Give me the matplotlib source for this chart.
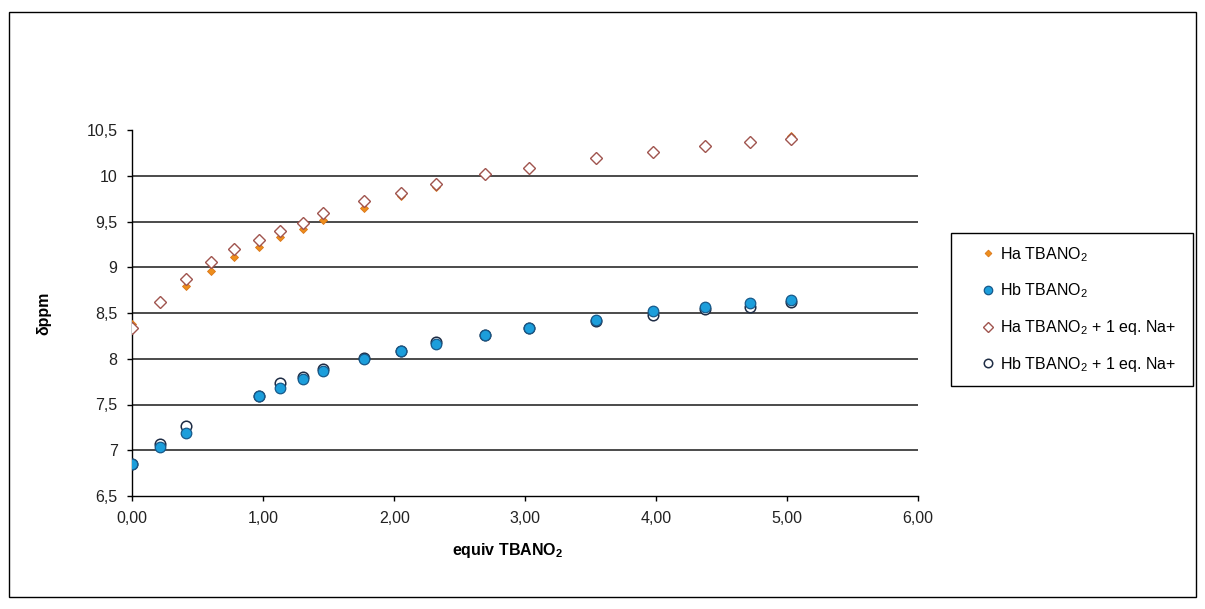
import matplotlib
matplotlib.use('Agg')
import matplotlib.pyplot as plt
from matplotlib.patches import Rectangle

plt.rcParams['font.family'] = ['Liberation Sans', 'DejaVu Sans']
plt.rcParams['mathtext.fontset'] = 'custom'
plt.rcParams['mathtext.rm'] = 'Liberation Sans'
plt.rcParams['mathtext.it'] = 'Liberation Sans:italic'
plt.rcParams['mathtext.bf'] = 'Liberation Sans:bold'
plt.rcParams['mathtext.default'] = 'regular'

# equiv TBANO2 for the Ha series (Hb series has no points at 0.60 and 0.78)
x_ha = [0.00, 0.21, 0.41, 0.60, 0.78, 0.97, 1.13, 1.30, 1.46, 1.77,
        2.05, 2.32, 2.69, 3.03, 3.54, 3.98, 4.37, 4.72, 5.03]
ha = [8.38, 8.62, 8.79, 8.96, 9.11, 9.22, 9.33, 9.42, 9.52, 9.65,
      9.78, 9.88, 10.01, 10.07, 10.18, 10.26, 10.32, 10.37, 10.43]
ha_na = [8.34, 8.62, 8.87, 9.06, 9.20, 9.30, 9.40, 9.48, 9.59, 9.72,
         9.81, 9.91, 10.02, 10.08, 10.19, 10.26, 10.32, 10.37, 10.40]

x_hb = [0.00, 0.21, 0.41, 0.97, 1.13, 1.30, 1.46, 1.77, 2.05, 2.32,
        2.69, 3.03, 3.54, 3.98, 4.37, 4.72, 5.03]
hb = [6.85, 7.04, 7.19, 7.59, 7.68, 7.78, 7.87, 8.00, 8.09, 8.16,
      8.26, 8.34, 8.42, 8.52, 8.57, 8.61, 8.64]
hb_na = [6.85, 7.07, 7.27, 7.59, 7.74, 7.80, 7.89, 8.01, 8.09, 8.18,
         8.26, 8.34, 8.41, 8.48, 8.54, 8.57, 8.62]

labels = ['Ha TBANO$_2$', 'Hb TBANO$_2$',
          'Ha TBANO$_2$ + 1 eq. Na+', 'Hb TBANO$_2$ + 1 eq. Na+']

x_ticks = [0, 1, 2, 3, 4, 5, 6]
x_ticklabels = ['0,00', '1,00', '2,00', '3,00', '4,00', '5,00', '6,00']
y_ticks = [6.5, 7, 7.5, 8, 8.5, 9, 9.5, 10, 10.5]
y_ticklabels = ['6,5', '7', '7,5', '8', '8,5', '9', '9,5', '10', '10,5']

W, H = 1205, 609
fig = plt.figure(figsize=(W / 100, H / 100), dpi=100)

# outer chart border
fig.patches.append(Rectangle((9 / W, 1 - 597 / H), (1196 - 9) / W, (597 - 12) / H,
                             transform=fig.transFigure, fill=False,
                             edgecolor='black', lw=1))

ax = fig.add_axes([132.3 / W, 1 - 496 / H, (918 - 132.3) / W, (496 - 130) / H])

# open markers go above the orange diamonds, the blue dots sit on top of the open circles
l1, = ax.plot(x_ha, ha, ls='none', marker='D', ms=4.3, mfc='#EE8E1C',
              mec='#D9761A', mew=0.6, zorder=3)
l3, = ax.plot(x_ha, ha_na, ls='none', marker='D', ms=5.8, mfc='white',
              mec='#A0544E', mew=1.0, zorder=4)
l4, = ax.plot(x_hb, hb_na, ls='none', marker='o', ms=7.6, mfc='white',
              mec='#1F2D45', mew=1.1, zorder=3)
l2, = ax.plot(x_hb, hb, ls='none', marker='o', ms=7.6, mfc='#1C9EDB',
              mec='#17598A', mew=0.9, zorder=4)

ax.set_xlim(0, 6)
ax.set_ylim(6.5, 10.5)
ax.set_xticks(x_ticks)
ax.set_xticklabels(x_ticklabels)
ax.set_yticks(y_ticks)
ax.set_yticklabels(y_ticklabels)
ax.tick_params(axis='both', direction='out', length=3.6, width=1,
               labelsize=11.5, colors='black', labelcolor='#222222')
ax.tick_params(axis='y', pad=7)
ax.tick_params(axis='x', pad=7)

ax.yaxis.grid(True, color='#1a1a1a', lw=1.1)
ax.set_axisbelow(True)
# no grid line on the top value or the axis line itself
gl = ax.get_ygridlines()
gl[0].set_visible(False)
gl[-1].set_visible(False)

for s in ['top', 'right']:
    ax.spines[s].set_visible(False)
for s in ['left', 'bottom']:
    ax.spines[s].set_color('black')
    ax.spines[s].set_linewidth(1)

fig.text(508 / W, 1 - 551 / H, r'equiv TBANO$_\mathbf{2}$', fontsize=11.5,
         fontweight='bold', ha='center', va='center')
fig.text(44 / W, 1 - 313 / H, 'δppm', fontsize=11.5, fontweight='bold',
         rotation=90, ha='center', va='center')

# legend box
fig.patches.append(Rectangle((951 / W, 1 - 386 / H), (1193 - 951) / W, (386 - 233) / H,
                             transform=fig.transFigure, fill=False,
                             edgecolor='black', lw=1))
fig.legend([l1, l2, l3, l4], labels, loc='upper left',
           bbox_to_anchor=(982 / W, 1 - 245 / H), frameon=False,
           fontsize=11.5, borderpad=0, borderaxespad=0, handlelength=0.8,
           handletextpad=0.3, labelspacing=1.12, markerscale=0.8)

fig.savefig('out.png', dpi=100)
